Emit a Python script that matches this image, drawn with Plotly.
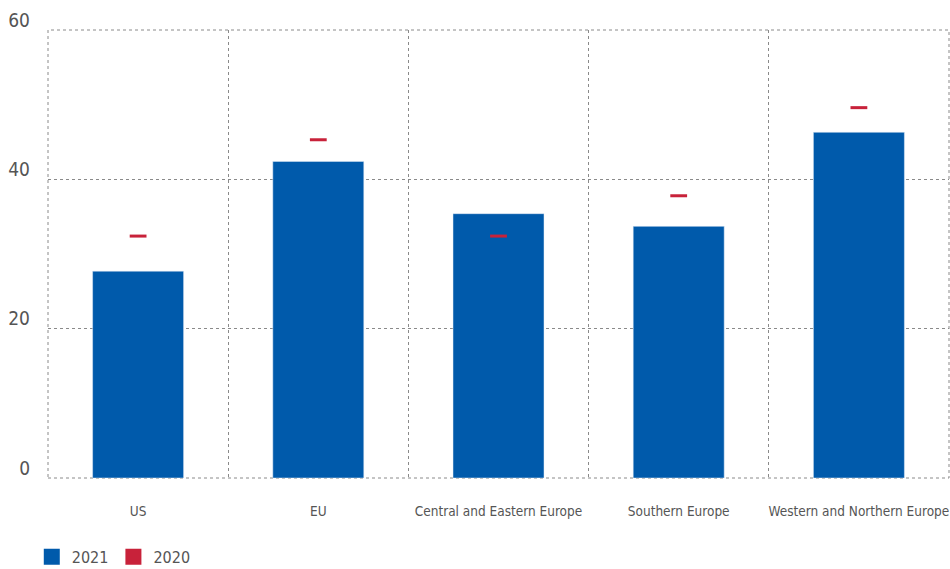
import plotly.graph_objects as go

categories = ["US", "EU", "Central and Eastern Europe", "Southern Europe", "Western and Northern Europe"]
values_2021 = [27.7, 42.4, 35.4, 33.7, 46.3]
values_2020 = [32.4, 45.3, 32.4, 37.8, 49.6]
y_ticks = [0, 20, 40, 60]

BLUE = "#005aab"
RED = "#c8223a"
GRID = "#8a8a8a"
FONT = "Liberation Sans Narrow, DejaVu Sans Condensed, sans-serif"

fig = go.Figure()
fig.add_trace(go.Bar(x=categories, y=values_2021, name="2021", marker_color=BLUE,
                     width=0.505, showlegend=False, xaxis="x", yaxis="y"))
fig.add_trace(go.Scatter(x=categories, y=values_2020, mode="markers", showlegend=False,
                         marker=dict(symbol="line-ew", size=12, line=dict(color=RED, width=3)),
                         xaxis="x", yaxis="y"))
# legend entries (square swatches)
fig.add_trace(go.Scatter(x=[None], y=[None], mode="markers", name="2021",
                         marker=dict(symbol="square", size=16, color=BLUE)))
fig.add_trace(go.Scatter(x=[None], y=[None], mode="markers", name="2020",
                         marker=dict(symbol="square", size=16, color=RED)))
# helper trace on xaxis2 to activate category-boundary gridlines
fig.add_trace(go.Scatter(x=[0], y=[None], xaxis="x2", yaxis="y", showlegend=False, hoverinfo="skip"))

# dotted frame around the plotting area
fig.add_shape(type="rect", xref="paper", yref="paper", x0=0, x1=1, y0=0, y1=1,
              line=dict(color=GRID, width=1, dash="dot"), layer="below")

fig.update_layout(
    width=950, height=569,
    margin=dict(l=48, r=1, t=30, b=91, autoexpand=False),
    plot_bgcolor="white", paper_bgcolor="white",
    font=dict(family=FONT, color="#555555", size=14),
    xaxis=dict(type="category", showgrid=False, showline=False, ticks="", automargin=False,
               tickfont=dict(size=13.5), range=[-0.5, 4.5], ticklabelstandoff=23),
    xaxis2=dict(overlaying="x", range=[-0.5, 4.5], tick0=-0.5, dtick=1, showgrid=True,
                gridcolor=GRID, griddash="dot", gridwidth=1, showticklabels=False,
                zeroline=False, layer="below traces", automargin=False),
    yaxis=dict(range=[0, 60], tickvals=y_ticks, showgrid=True, gridcolor=GRID,
               griddash="dot", gridwidth=1, zeroline=False, showline=False, automargin=False,
               tickfont=dict(size=19), ticklabelshift=-10, ticklabelstandoff=17),
    legend=dict(orientation="h", x=-0.018, y=-0.176, xanchor="left", yanchor="middle",
                font=dict(size=16), traceorder="normal", itemsizing="trace"),
)

fig.write_html("out.html", config={"displayModeBar": False},
               post_script="document.body.style.margin='0';document.body.style.overflow='hidden';")
